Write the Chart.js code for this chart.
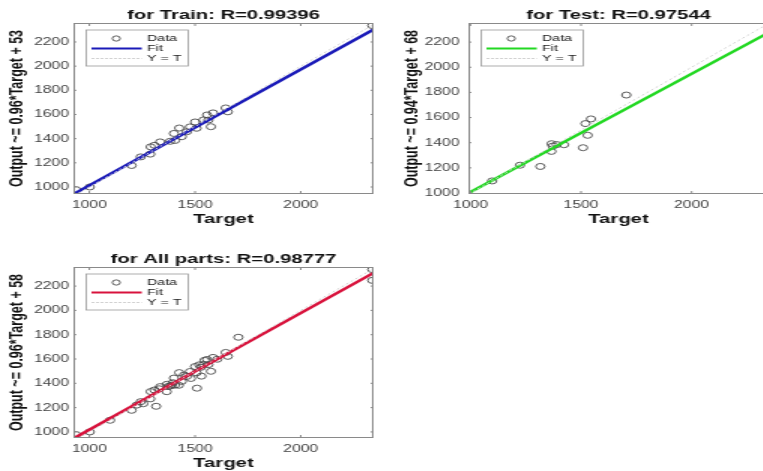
<!DOCTYPE html>
<html>
<head>
<meta charset="utf-8">
<script src="https://cdn.jsdelivr.net/npm/chart.js@4.4.0/dist/chart.umd.min.js"></script>
<style>
  html, body { margin: 0; padding: 0; background: #fff; overflow: hidden; width: 763px; height: 471px; }
  .panel { position: absolute; transform: scaleX(1.5); transform-origin: 0 0; }
</style>
</head>
<body>
<div class="panel" style="left:0;top:0"><canvas id="train-chart" width="257" height="232"></canvas></div>
<div class="panel" style="left:395px;top:0"><canvas id="test-chart" width="257" height="232"></canvas></div>
<div class="panel" style="left:0;top:244px"><canvas id="all-chart" width="257" height="232"></canvas></div>
<script>
const trainTarget = [937, 1002, 1200, 1243, 1288, 1290, 1308, 1335, 1382, 1400, 1405, 1425, 1437, 1461, 1476, 1500, 1507, 1540, 1557, 1563, 1575, 1585, 1645, 1655, 2338];
const trainOutput = [978, 1000, 1178, 1249, 1272, 1332, 1345, 1373, 1378, 1443, 1385, 1488, 1416, 1457, 1497, 1538, 1486, 1555, 1596, 1554, 1499, 1613, 1654, 1622, 2336];

const testTarget = [1098, 1224, 1316, 1367, 1372, 1366, 1390, 1423, 1509, 1530, 1520, 1545, 1705];
const testOutput = [1096, 1221, 1211, 1392, 1373, 1331, 1385, 1384, 1360, 1459, 1552, 1589, 1779];

const validTarget = [1255, 1330, 1395, 1448, 1480, 1528, 1605, 2338];
const validOutput = [1232, 1355, 1405, 1468, 1440, 1532, 1598, 2247];

const allTarget = trainTarget.concat(testTarget, validTarget);
const allOutput = trainOutput.concat(testOutput, validOutput);

// slope, intercept as printed on the axis labels
const trainFit = [0.96, 53];
const testFit = [0.94, 68];
const allFit = [0.96, 58];

const xTickValues = [1000, 1500, 2000];
const yTickValues = [1000, 1200, 1400, 1600, 1800, 2000, 2200];

const FONT = "'Liberation Sans', Arial, sans-serif";
const IDENTITY_COLOR = "#d2d2d2";

const framePlugin = {
  id: "frame",
  afterDraw(chart, args, opts) {
    const { ctx, chartArea: a, scales } = chart;
    ctx.save();

    // axes box
    ctx.strokeStyle = "#8a8a8a";
    ctx.lineWidth = 1;
    ctx.strokeRect(a.left + 0.5, a.top + 0.5, a.right - a.left - 1, a.bottom - a.top - 1);

    // inward ticks
    ctx.beginPath();
    xTickValues.forEach((v) => {
      const px = scales.x.getPixelForValue(v);
      ctx.moveTo(px, a.bottom); ctx.lineTo(px, a.bottom - 3);
      ctx.moveTo(px, a.top); ctx.lineTo(px, a.top + 3);
    });
    yTickValues.forEach((v) => {
      const py = scales.y.getPixelForValue(v);
      ctx.moveTo(a.left, py); ctx.lineTo(a.left + 2, py);
      ctx.moveTo(a.right, py); ctx.lineTo(a.right - 2, py);
    });
    ctx.stroke();

    // title
    ctx.fillStyle = "#111";
    ctx.font = `bold 13.5px ${FONT}`;
    ctx.textAlign = "center";
    ctx.textBaseline = "middle";
    ctx.fillText(opts.title, (a.left + a.right) / 2, 15);

    // legend box
    const bx = a.left + 8.5;
    const by = a.top + 7;
    ctx.fillStyle = "#fff";
    ctx.fillRect(bx, by, 68, 36);
    ctx.strokeStyle = "#9a9a9a";
    ctx.lineWidth = 0.8;
    ctx.strokeRect(bx, by, 68, 36);

    ctx.strokeStyle = "#4a4a4a";
    ctx.lineWidth = 0.9;
    ctx.beginPath();
    ctx.arc(bx + 20, by + 8.5, 2.6, 0, Math.PI * 2);
    ctx.stroke();

    ctx.strokeStyle = opts.color;
    ctx.lineWidth = 2.2;
    ctx.beginPath();
    ctx.moveTo(bx + 3.5, by + 18.5); ctx.lineTo(bx + 37, by + 18.5);
    ctx.stroke();

    ctx.strokeStyle = IDENTITY_COLOR;
    ctx.lineWidth = 1.2;
    ctx.setLineDash([2, 1]);
    ctx.beginPath();
    ctx.moveTo(bx + 3.5, by + 28.5); ctx.lineTo(bx + 37, by + 28.5);
    ctx.stroke();
    ctx.setLineDash([]);

    ctx.fillStyle = "#222";
    ctx.font = `9.5px ${FONT}`;
    ctx.textAlign = "left";
    ctx.fillText("Data", bx + 40.5, by + 8.5);
    ctx.fillText("Fit", bx + 40.5, by + 18.5);
    ctx.fillText("Y = T", bx + 40.5, by + 28.5);

    ctx.restore();
  },
};

function makePanel(canvasId, cfg) {
  const [xMin, xMax] = cfg.xLimits;
  const [slope, intercept] = cfg.fit;
  const points = cfg.targets.map((t, i) => ({ x: t, y: cfg.outputs[i] }));
  const fitLine = [xMin, xMax].map((t) => ({ x: t, y: slope * t + intercept }));
  const identity = [xMin, xMax].map((t) => ({ x: t, y: t }));
  const plainNumber = (value) => String(value);

  return new Chart(document.getElementById(canvasId), {
    type: "scatter",
    data: {
      datasets: [
        {
          label: "Data",
          data: points,
          pointStyle: "circle",
          pointRadius: 3,
          borderWidth: 0.9,
          borderColor: "#4a4a4a",
          backgroundColor: "rgba(0,0,0,0)",
          order: 3,
        },
        {
          label: "Fit",
          type: "line",
          data: fitLine,
          borderColor: cfg.color,
          borderWidth: 2.6,
          pointRadius: 0,
          order: 2,
        },
        {
          label: "Y = T",
          type: "line",
          data: identity,
          borderColor: IDENTITY_COLOR,
          borderWidth: 1,
          borderDash: [2, 2],
          pointRadius: 0,
          order: 1,
        },
      ],
    },
    options: {
      responsive: false,
      animation: false,
      layout: { padding: { top: 23, left: 0, right: 8, bottom: 0 } },
      plugins: {
        legend: { display: false },
        tooltip: { enabled: false },
        frame: { title: cfg.title, color: cfg.color },
      },
      scales: {
        x: {
          type: "linear",
          min: xMin,
          max: xMax,
          grid: { display: false, drawTicks: false },
          border: { display: false },
          afterBuildTicks: (scale) => {
            scale.ticks = xTickValues.map((value) => ({ value }));
          },
          afterFit: (scale) => {
            scale.height = 38;
          },
          ticks: { padding: 5, color: "#444", font: { family: FONT, size: 10.5 }, callback: plainNumber },
          title: {
            display: true,
            text: "Target",
            color: "#111",
            font: { family: FONT, size: 13.5, weight: "bold" },
            padding: { top: 0, bottom: 5 },
          },
        },
        y: {
          type: "linear",
          min: cfg.yLimits[0],
          max: cfg.yLimits[1],
          grid: { display: false, drawTicks: false },
          border: { display: false },
          afterBuildTicks: (scale) => {
            scale.ticks = yTickValues.map((value) => ({ value }));
          },
          afterFit: (scale) => {
            scale.width = 49;
          },
          ticks: { padding: cfg.tickPad, color: "#444", font: { family: FONT, size: 10.5 }, callback: plainNumber },
          title: {
            display: true,
            text: cfg.yTitle,
            color: "#111",
            font: { family: FONT, size: 12.5, weight: "bold" },
            padding: { top: 4.5, bottom: 0 },
          },
        },
      },
    },
    plugins: [framePlugin],
  });
}

makePanel("train-chart", {
  title: "for Train: R=0.99396",
  yTitle: "Output ~= 0.96*Target + 53",
  targets: trainTarget,
  outputs: trainOutput,
  fit: trainFit,
  color: "#1a1ab8",
  xLimits: [925, 2344],
  yLimits: [942, 2357],
  tickPad: 3,
});

makePanel("test-chart", {
  title: "for Test: R=0.97544",
  yTitle: "Output ~= 0.94*Target + 68",
  targets: testTarget,
  outputs: testOutput,
  fit: testFit,
  color: "#22d822",
  xLimits: [991, 2348],
  yLimits: [992, 2352],
  tickPad: 6,
});

makePanel("all-chart", {
  title: "for All parts: R=0.98777",
  yTitle: "Output ~= 0.96*Target + 58",
  targets: allTarget,
  outputs: allOutput,
  fit: allFit,
  color: "#d8123c",
  xLimits: [925, 2344],
  yLimits: [950, 2357],
  tickPad: 3,
});
</script>
</body>
</html>
